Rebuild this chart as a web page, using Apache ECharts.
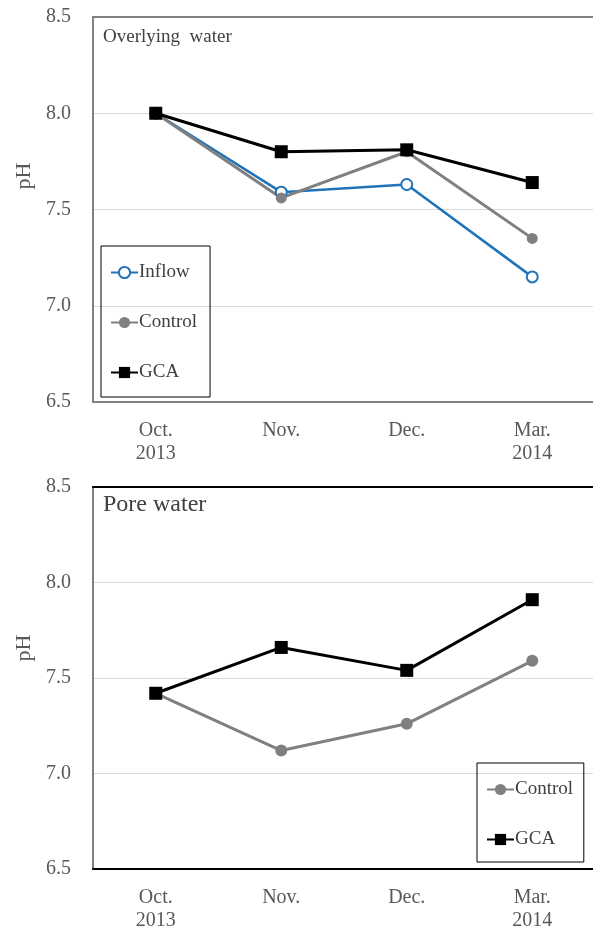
<!DOCTYPE html>
<html lang="en">
<head>
  <meta charset="UTF-8">
  <title>pH</title>
  <style>
    html, body { margin: 0; padding: 0; background: #fff; }
    #main { width: 593px; height: 929px; }
  </style>
</head>
<body>
  <div id="main"></div>
  <script src="https://cdn.jsdelivr.net/npm/echarts@6/dist/echarts.min.js"></script>
  <script>
    var chart = echarts.init(document.getElementById('main'));

    // data
    const months = ['Oct.\n2013', 'Nov.', 'Dec.', 'Mar.\n2014'];
    const yTicks = [6.5, 7.0, 7.5, 8.0, 8.5];
    const overInflow = [8.00, 7.59, 7.63, 7.15];
    const overControl = [8.00, 7.56, 7.80, 7.35];
    const overGCA = [8.00, 7.80, 7.81, 7.64];
    const poreControl = [7.42, 7.12, 7.26, 7.59];
    const poreGCA = [7.42, 7.66, 7.54, 7.91];

    const serif = '"Liberation Serif", "DejaVu Serif", serif';
    const blue = '#1f73b8';
    const grey = '#808080';

    function xAx(idx, lineColor) {
      return {
        type: 'category', gridIndex: idx, data: months,
        axisLine: { lineStyle: { color: lineColor, width: 2 } },
        axisTick: { show: false },
        axisLabel: { fontFamily: serif, fontSize: 20, color: '#595959', margin: 17, lineHeight: 23 }
      };
    }
    // frame line along the top of each panel
    function topAx(idx, lineColor) {
      return {
        type: 'category', gridIndex: idx, data: months, position: 'top',
        axisLine: { lineStyle: { color: lineColor, width: 2 } },
        axisTick: { show: false }, axisLabel: { show: false }, splitLine: { show: false }
      };
    }
    function yAx(idx) {
      return {
        type: 'value', gridIndex: idx,
        min: yTicks[0], max: yTicks[yTicks.length - 1], interval: 0.5,
        axisLine: { show: true, lineStyle: { color: grey, width: 2 } },
        axisTick: { show: false },
        splitLine: { lineStyle: { color: '#d9d9d9', width: 1 } },
        axisLabel: {
          fontFamily: serif, fontSize: 20, color: '#595959', margin: 22,
          formatter: v => v.toFixed(1)
        }
      };
    }
    function legendBox(left, top, names, pad) {
      return {
        orient: 'vertical', left: left, top: top,
        data: names,
        itemWidth: 27, itemHeight: 14, itemGap: 31,
        padding: pad,
        borderColor: '#000', borderWidth: 1,
        textStyle: { fontFamily: serif, fontSize: 19, color: '#404040', padding: [0, 0, 0, -4] },
        selectedMode: false
      };
    }

    var option = {
      animation: false,
      grid: [
        { left: 93, top: 17, width: 502, height: 385, outerBoundsMode: 'none' },
        { left: 93, top: 487, width: 502, height: 382, outerBoundsMode: 'none' }
      ],
      xAxis: [xAx(0, grey), xAx(1, '#000'), topAx(0, grey), topAx(1, '#000')],
      yAxis: [yAx(0), yAx(1)],
      legend: [
        legendBox(101, 246, ['Inflow', 'Control', 'GCA'], [17, 13, 15, 9]),
        legendBox(477, 763, [{ name: 'Control ' }, { name: 'GCA ' }], [17, 6, 13, 9])
      ],
      graphic: [
        { type: 'text', left: 103, top: 28, style: { text: 'Overlying  water', font: '19px ' + serif, fill: '#404040' } },
        { type: 'text', left: 103, top: 493, style: { text: 'Pore water', font: '24px ' + serif, fill: '#404040' } },
        { type: 'text', x: 24, y: 176, rotation: Math.PI / 2, style: { text: 'pH', font: '22px ' + serif, fill: '#595959', align: 'center', verticalAlign: 'middle' } },
        { type: 'text', x: 24, y: 648, rotation: Math.PI / 2, style: { text: 'pH', font: '22px ' + serif, fill: '#595959', align: 'center', verticalAlign: 'middle' } }
      ],
      series: [
        {
          name: 'Inflow', type: 'line', xAxisIndex: 0, yAxisIndex: 0, data: overInflow,
          symbol: 'emptyCircle', symbolSize: 11,
          lineStyle: { color: blue, width: 2.5 },
          itemStyle: { color: blue, borderColor: blue, borderWidth: 1 }
        },
        {
          name: 'Control', type: 'line', xAxisIndex: 0, yAxisIndex: 0, data: overControl,
          symbol: 'circle', symbolSize: 11,
          lineStyle: { color: grey, width: 3 },
          itemStyle: { color: grey }
        },
        {
          name: 'GCA', type: 'line', xAxisIndex: 0, yAxisIndex: 0, data: overGCA,
          symbol: 'rect', symbolSize: 13,
          lineStyle: { color: '#000', width: 3 },
          itemStyle: { color: '#000' }
        },
        {
          name: 'Control ', type: 'line', xAxisIndex: 1, yAxisIndex: 1, data: poreControl,
          symbol: 'circle', symbolSize: 12,
          lineStyle: { color: grey, width: 3 },
          itemStyle: { color: grey }
        },
        {
          name: 'GCA ', type: 'line', xAxisIndex: 1, yAxisIndex: 1, data: poreGCA,
          symbol: 'rect', symbolSize: 13,
          lineStyle: { color: '#000', width: 3 },
          itemStyle: { color: '#000' }
        }
      ]
    };

    chart.setOption(option);
  </script>
</body>
</html>
